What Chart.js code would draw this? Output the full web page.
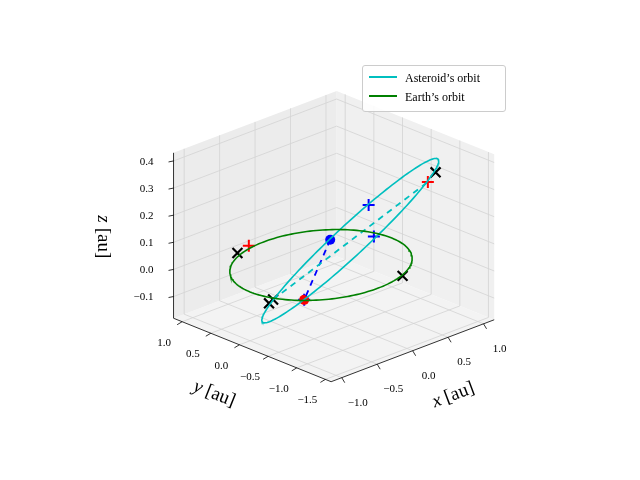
<!DOCTYPE html>
<html>
<head>
<meta charset="utf-8">
<script src="https://cdn.jsdelivr.net/npm/chart.js@4.4.0/dist/chart.umd.min.js"></script>
<style>
  body { margin: 0; background: #fff; }
  #wrap { position: relative; width: 640px; height: 480px; }
  #legend { position: absolute; left: 362px; top: 65px; width: 142px; padding: 3px 0 4px 0;
    border: 1px solid #ccc; border-radius: 3px; background: rgba(255,255,255,0.85);
    font-family: "Liberation Serif", serif; font-size: 12px; }
  #legend div { height: 19px; line-height: 19px; }
  #legend span { display: inline-block; width: 28px; height: 2px; margin: 0 8px 4px 6px; vertical-align: middle; }
</style>
</head>
<body>
<div id="wrap">
  <canvas id="c" width="640" height="480"></canvas>
  <div id="legend">
    <div><span style="background:#00bfbf"></span>Asteroid’s orbit</div>
    <div><span style="background:#008000"></span>Earth’s orbit</div>
  </div>
</div>
<script>
// axis ranges and ticks
const xRange = [-1.15, 1.15];
const yRange = [-1.6, 1.15];
const zRange = [-0.18, 0.43];
const xTicks = [-1.0, -0.5, 0.0, 0.5, 1.0];
const yTicks = [-1.5, -1.0, -0.5, 0.0, 0.5, 1.0];
const zTicks = [-0.1, 0.0, 0.1, 0.2, 0.3, 0.4];

// orbits (3D, au)
const earthRadius = 1.0;
const asteroidCenter = [0.09, -0.40, 0.115];
const asteroidMajor = [0.94, -0.38, 0.235];
const asteroidMinor = [0.2, 0.3, 0.02];

// markers (3D, au)
const blueDot = [[0.13, 0.0, 0.08]];
const redDot = [[-0.75, -0.635, 0.0]];
const blackCross = [[-0.39, 0.975, 0.0], [0.396, -0.934, 0.0], [0.889, -0.9, 0.33], [-0.579, 0.19, -0.1], [-0.53, 0.18, -0.09]];
const redPlus = [[0.806, -0.868, 0.3], [-0.177, 1.04, 0.0]];
const bluePlus = [[0.449, -0.276, 0.2], [0.41, -0.416, 0.1], [-0.75, -0.635, 0.0]];
const cyanDash = [[-0.53, 0.18, -0.09], [0.806, -0.868, 0.3]];
const blueDash = [[0.13, 0.0, 0.08], [-0.75, -0.635, 0.0]];

function proj(p) {
  return { x: 321 + 73 * p[0] - 59 * p[1], y: 266 - 28 * p[0] - 24 * p[1] - 282 * p[2] };
}

function ellipse(c, u, v) {
  const pts = [];
  for (let i = 0; i <= 180; i++) {
    const t = i / 180 * 2 * Math.PI;
    pts.push(proj([0, 1, 2].map(k => c[k] + u[k] * Math.cos(t) + v[k] * Math.sin(t))));
  }
  return pts;
}

const earthPts = ellipse([0, 0, 0], [earthRadius, 0, 0], [0, earthRadius, 0]);
const asteroidPts = ellipse(asteroidCenter, asteroidMajor, asteroidMinor);

const serif = '"Liberation Serif", serif';

const axesPlugin = {
  id: 'axes3d',
  beforeDatasetsDraw(chart) {
    const ctx = chart.ctx;
    const sx = chart.scales.x, sy = chart.scales.y;
    const P = (x, y, z) => { const q = proj([x, y, z]); return [sx.getPixelForValue(q.x), sy.getPixelForValue(q.y)]; };
    const poly = (pts, fill) => {
      ctx.beginPath(); pts.forEach((p, i) => i ? ctx.lineTo(p[0], p[1]) : ctx.moveTo(p[0], p[1]));
      ctx.closePath(); ctx.fillStyle = fill; ctx.fill();
    };
    const line = (a, b, col, w) => {
      ctx.beginPath(); ctx.moveTo(a[0], a[1]); ctx.lineTo(b[0], b[1]);
      ctx.strokeStyle = col; ctx.lineWidth = w; ctx.stroke();
    };
    const [x0, x1] = xRange, [y0, y1] = yRange, [z0, z1] = zRange;
    ctx.save();
    // panes
    poly([P(x0, y0, z0), P(x1, y0, z0), P(x1, y1, z0), P(x0, y1, z0)], '#f3f3f3');
    poly([P(x0, y1, z0), P(x1, y1, z0), P(x1, y1, z1), P(x0, y1, z1)], '#ececec');
    poly([P(x1, y0, z0), P(x1, y1, z0), P(x1, y1, z1), P(x1, y0, z1)], '#f0f0f0');
    // grid
    const gc = '#d3d3d3';
    xTicks.forEach(t => { line(P(t, y0, z0), P(t, y1, z0), gc, 0.8); line(P(t, y1, z0), P(t, y1, z1), gc, 0.8); });
    yTicks.forEach(t => { line(P(x0, t, z0), P(x1, t, z0), gc, 0.8); line(P(x1, t, z0), P(x1, t, z1), gc, 0.8); });
    zTicks.forEach(t => { line(P(x0, y1, t), P(x1, y1, t), gc, 0.8); line(P(x1, y1, t), P(x1, y0, t), gc, 0.8); });
    // axis lines
    line(P(x0, y0, z0), P(x1, y0, z0), '#000', 0.8);
    line(P(x0, y0, z0), P(x0, y1, z0), '#000', 0.8);
    line(P(x0, y1, z0), P(x0, y1, z1), '#000', 0.8);
    const fmt = v => (v < 0 ? '\u2212' : '') + Math.abs(v).toFixed(1);
    ctx.fillStyle = '#000';
    ctx.font = '11px ' + serif;
    xTicks.forEach(t => {
      const a = P(t, y0, z0);
      line(a, [a[0] + 3, a[1] + 5], '#000', 0.8);
      ctx.textAlign = 'center'; ctx.textBaseline = 'middle';
      ctx.fillText(fmt(t), a[0] + 16, a[1] + 25);
    });
    yTicks.forEach(t => {
      const a = P(x0, t, z0);
      line(a, [a[0] - 5, a[1] + 3], '#000', 0.8);
      ctx.textAlign = 'center'; ctx.textBaseline = 'middle';
      ctx.fillText(fmt(t), a[0] - 18, a[1] + 21);
    });
    zTicks.forEach(t => {
      const a = P(x0, y1, t);
      line(a, [a[0] - 5, a[1] + 1], '#000', 0.8);
      ctx.textAlign = 'right'; ctx.textBaseline = 'middle';
      ctx.fillText(fmt(t), a[0] - 20, a[1] + 1);
    });
    // axis titles
    const title = (cx, cy, ang, v) => {
      ctx.save(); ctx.translate(cx, cy); ctx.rotate(ang);
      ctx.textAlign = 'center'; ctx.textBaseline = 'middle';
      ctx.font = 'italic 19px ' + serif; ctx.fillText(v, -15, 0);
      ctx.font = '19px ' + serif; ctx.fillText('[au]', 9, 0);
      ctx.restore();
    };
    title(451, 396, -0.36, 'x');
    title(212, 393, 0.38, 'y');
    title(103, 234, Math.PI / 2, 'z');
    ctx.restore();
  }
};

const pts = arr => arr.map(proj);
const marker = (data, style, color, r, w) => ({
  data: pts(data), showLine: false, pointStyle: style, pointRadius: r,
  borderColor: color, backgroundColor: color, borderWidth: w, pointHoverRadius: r
});

new Chart(document.getElementById('c'), {
  type: 'scatter',
  data: {
    datasets: [
      { label: "Earth's orbit", data: earthPts, showLine: true, borderColor: '#008000', borderWidth: 1.6, pointRadius: 0 },
      { label: "Asteroid's orbit", data: asteroidPts, showLine: true, borderColor: '#00bfbf', borderWidth: 1.6, pointRadius: 0 },
      { data: pts(cyanDash), showLine: true, borderColor: '#00bfbf', borderWidth: 1.8, borderDash: [6, 5], pointRadius: 0 },
      { data: pts(blueDash), showLine: true, borderColor: '#0000ff', borderWidth: 1.8, borderDash: [6, 5], pointRadius: 0 },
      marker(blueDot, 'circle', '#0000ff', 5, 0),
      marker(redDot, 'circle', '#ff0000', 5, 0),
      marker(blackCross, 'crossRot', '#000', 7, 2.2),
      marker(redPlus, 'cross', '#ff0000', 6, 2),
      marker(bluePlus, 'cross', '#0000ff', 6, 2)
    ]
  },
  options: {
    responsive: false, animation: false,
    layout: { padding: 0 },
    plugins: { legend: { display: false }, tooltip: { enabled: false } },
    scales: {
      x: { type: 'linear', min: 0, max: 640, display: false },
      y: { type: 'linear', min: 0, max: 480, reverse: true, display: false }
    }
  },
  plugins: [axesPlugin]
});
</script>
</body>
</html>
